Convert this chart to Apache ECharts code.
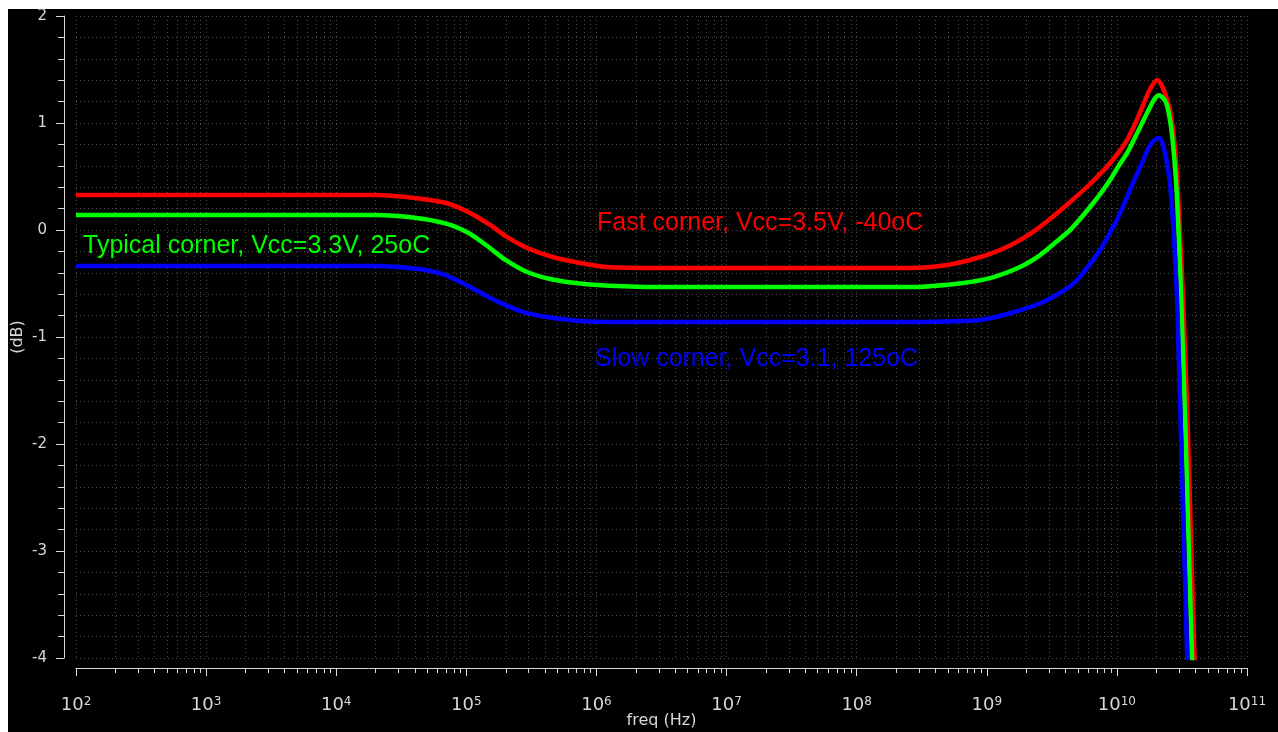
<!DOCTYPE html>
<html>
<head>
<meta charset="utf-8">
<script src="https://cdn.jsdelivr.net/npm/echarts@6/dist/echarts.min.js"></script>
<style>
  html, body { margin: 0; padding: 0; background: #ffffff; }
  #chart { position: absolute; left: 8px; top: 9px; width: 1270px; height: 723px; background: #000000; }
</style>
</head>
<body>
<div id="chart"></div>
<script>
// Gain vs frequency for the three process corners (freq in Hz, gain in dB)
const fastFreq = [1e2, 2e4, 4e4, 7e4, 1.07e5, 1.52e5, 2.05e5, 2.93e5, 4.6e5, 7.5e5, 1.2e6, 3e6, 2.7e8, 3.66e8, 5.22e8,
  7.45e8, 1.06e9, 1.51e9, 2.15e9, 3.06e9, 4.37e9, 6.22e9, 8.87e9, 1.16e10, 1.38e10, 1.59e10, 1.80e10, 2.04e10, 2.19e10,
  2.34e10, 2.56e10, 2.77e10, 2.95e10, 3.09e10, 3.23e10, 3.53e10, 3.78e10, 3.95e10, 4.02e10];
const fastDb = [0.327, 0.327, 0.30, 0.252, 0.159, 0.047, -0.065, -0.168, -0.252, -0.308, -0.346, -0.355, -0.355, -0.346, -0.322,
  -0.280, -0.224, -0.145, -0.037, 0.103, 0.262, 0.430, 0.626, 0.813, 0.991, 1.168, 1.318, 1.402, 1.36,
  1.28, 1.12, 0.81, 0.35, -0.16, -0.65, -1.96, -3.24, -4.0, -4.4];

const typFreq = [1e2, 2e4, 4e4, 7e4, 1.05e5, 1.45e5, 2e5, 2.9e5, 4.5e5, 7.5e5, 1.25e6, 3e6, 2.7e8, 3.66e8, 6.2e8,
  1.06e9, 1.8e9, 2.57e9, 3.35e9, 4.37e9, 5.21e9, 6.22e9, 7.43e9, 8.87e9, 1.02e10, 1.2e10, 1.51e10, 1.8e10, 1.96e10, 2.11e10,
  2.39e10, 2.61e10, 2.77e10, 2.88e10, 3.01e10, 3.12e10, 3.38e10, 3.62e10, 3.78e10, 3.85e10];
const typDb = [0.14, 0.14, 0.115, 0.06, -0.03, -0.15, -0.28, -0.39, -0.46, -0.50, -0.52, -0.533, -0.533, -0.525, -0.5,
  -0.45, -0.346, -0.234, -0.12, 0.0, 0.103, 0.215, 0.336, 0.467, 0.59, 0.72, 0.963, 1.15, 1.23, 1.26,
  1.19, 0.96, 0.65, 0.35, -0.16, -0.65, -1.96, -3.24, -4.0, -4.4];

const slowFreq = [1e2, 2e4, 4e4, 6.5e4, 9.5e4, 1.35e5, 1.9e5, 2.8e5, 4.5e5, 7.5e5, 1.25e6, 3e6, 2.7e8, 3.66e8, 8.87e8,
  1.51e9, 2.57e9, 3.86e9, 4.78e9, 5.9e9, 7.43e9, 8.57e9, 1.0e10, 1.26e10, 1.51e10, 1.8e10, 2.0e10, 2.15e10,
  2.31e10, 2.52e10, 2.66e10, 2.77e10, 2.9e10, 3.09e10, 3.25e10, 3.34e10, 3.47e10, 3.53e10];
const slowDb = [-0.336, -0.336, -0.36, -0.41, -0.50, -0.60, -0.69, -0.77, -0.82, -0.85, -0.86, -0.86, -0.86, -0.857, -0.841,
  -0.778, -0.685, -0.57, -0.486, -0.355, -0.187, -0.056, 0.093, 0.374, 0.59, 0.794, 0.85, 0.86,
  0.75, 0.50, 0.19, -0.16, -0.65, -1.80, -2.80, -3.27, -4.0, -4.4];

const cornerLabels = ['Fast corner, Vcc=3.5V, -40oC', 'Typical corner, Vcc=3.3V, 25oC', 'Slow corner, Vcc=3.1, 125oC'];
const cornerColors = ['#ff0000', '#00ff00', '#0000ff'];

const F_MIN = 1e2, F_MAX = 1e11;
const DB_MIN = -4, DB_MAX = 2;
const xTitle = 'freq (Hz)';
const yTitle = '(dB)';

const AXIS_COLOR = '#d8d8d8';
const GRID_COLOR = '#4c4c4c';
const LABEL_FONT = 'DejaVu Sans';
const NOTE_FONT = 'Liberation Sans';

// Minor decade positions (2..9 x 10^n) for the dotted grid and short ticks
const minorFreqs = [];
for (let e = 2; e < 11; e++) {
  for (let k = 2; k <= 9; k++) minorFreqs.push(k * Math.pow(10, e));
}

const pairs = (xs, ys) => xs.map((x, i) => [x, ys[i]]);

const chart = echarts.init(document.getElementById('chart'), null, { renderer: 'canvas' });

function curve(name, xs, ys, color) {
  return {
    name, type: 'line', data: pairs(xs, ys), showSymbol: false, symbol: 'none',
    smooth: 0.25, clip: true, z: 3,
    lineStyle: { color, width: 4.5 }, silent: true, animation: false
  };
}

chart.setOption({
  backgroundColor: '#000000',
  animation: false,
  grid: { left: 68, right: 31, top: 7, bottom: 74, containLabel: false, outerBoundsMode: 'none' },
  xAxis: {
    type: 'log', logBase: 10, min: F_MIN, max: F_MAX, offset: 10,
    name: xTitle, nameLocation: 'middle', nameGap: 45, nameMoveOverlap: false,
    nameTextStyle: { color: AXIS_COLOR, fontFamily: LABEL_FONT, fontSize: 16 },
    axisLine: { show: true, onZero: false, lineStyle: { color: AXIS_COLOR, width: 1 } },
    axisTick: { show: true, length: 8, lineStyle: { color: AXIS_COLOR } },
    minorTick: { show: false },
    splitLine: { show: true, lineStyle: { color: GRID_COLOR, type: [1, 3] } },
    axisLabel: {
      margin: 28,
      formatter: v => '{b|10}{s|' + Math.round(Math.log10(v)) + '}',
      rich: {
        b: { color: AXIS_COLOR, fontFamily: LABEL_FONT, fontSize: 18, verticalAlign: 'bottom' },
        s: { color: AXIS_COLOR, fontFamily: LABEL_FONT, fontSize: 12, verticalAlign: 'top' }
      }
    }
  },
  yAxis: {
    type: 'value', min: DB_MIN, max: DB_MAX, interval: 1, offset: 12,
    name: yTitle, nameLocation: 'middle', nameGap: 38, nameRotate: 90, nameMoveOverlap: false,
    nameTextStyle: { color: AXIS_COLOR, fontFamily: LABEL_FONT, fontSize: 16 },
    axisLine: { show: true, onZero: false, lineStyle: { color: AXIS_COLOR, width: 1 } },
    axisTick: { show: true, length: 8, lineStyle: { color: AXIS_COLOR } },
    minorTick: { show: true, splitNumber: 5, length: 6, lineStyle: { color: AXIS_COLOR } },
    splitLine: { show: true, lineStyle: { color: GRID_COLOR, type: [1, 3] } },
    minorSplitLine: { show: true, lineStyle: { color: GRID_COLOR, type: [1, 3] } },
    axisLabel: { color: AXIS_COLOR, fontFamily: LABEL_FONT, fontSize: 15, margin: 17 }
  },
  series: [
    {
      type: 'custom', silent: true, z: 1, animation: false,
      data: minorFreqs.map(f => [f, DB_MIN]),
      renderItem: (params, api) => {
        const f = api.value(0);
        const top = api.coord([f, DB_MAX]);
        const bot = api.coord([f, DB_MIN]);
        const x = Math.round(top[0]) + 0.5;
        return {
          type: 'group',
          children: [
            { type: 'line', shape: { x1: x, y1: top[1], x2: x, y2: bot[1] },
              style: { stroke: GRID_COLOR, lineWidth: 1, lineDash: [1, 3] } },
            { type: 'line', shape: { x1: x, y1: bot[1] + 10, x2: x, y2: bot[1] + 15 },
              style: { stroke: AXIS_COLOR, lineWidth: 1 } }
          ]
        };
      }
    },
    curve(cornerLabels[0], fastFreq, fastDb, cornerColors[0]),
    curve(cornerLabels[1], typFreq, typDb, cornerColors[1]),
    curve(cornerLabels[2], slowFreq, slowDb, cornerColors[2])
  ],
  graphic: [
    { type: 'text', left: 589, top: 202, z: 10, silent: true,
      style: { text: cornerLabels[0], fill: cornerColors[0], font: '25px "' + NOTE_FONT + '"' } },
    { type: 'text', left: 75, top: 225, z: 10, silent: true,
      style: { text: cornerLabels[1], fill: cornerColors[1], font: '25px "' + NOTE_FONT + '"' } },
    { type: 'text', left: 587, top: 338, z: 10, silent: true,
      style: { text: cornerLabels[2], fill: cornerColors[2], font: '25px "' + NOTE_FONT + '"' } }
  ]
});
</script>
</body>
</html>
